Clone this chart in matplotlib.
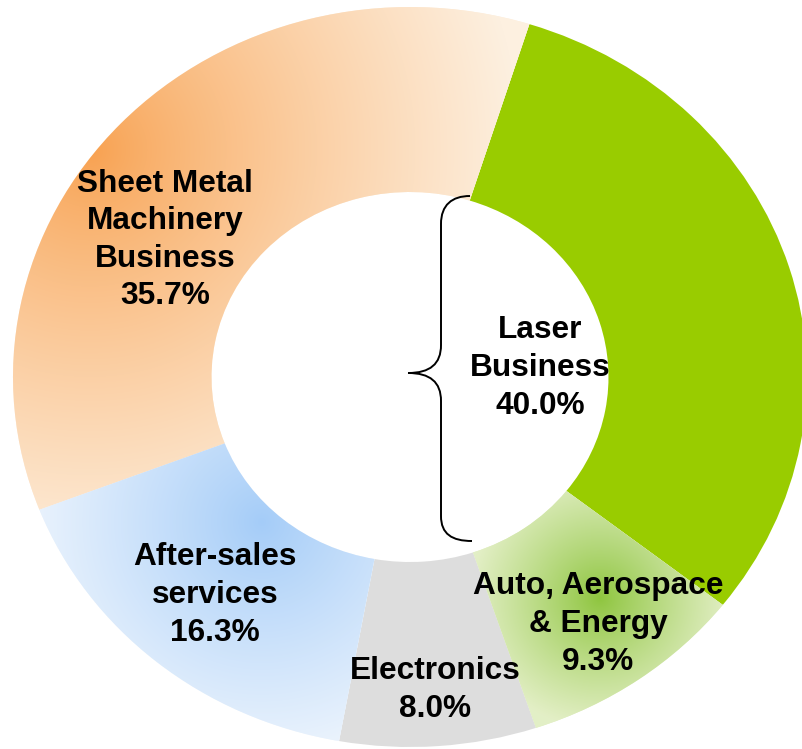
import numpy as np
import matplotlib.pyplot as plt
from matplotlib.colors import to_rgb
from matplotlib.path import Path
from matplotlib.patches import PathPatch

# segment shares, clockwise from the top
segments = ['Laser Business', 'Auto, Aerospace & Energy', 'Electronics',
            'After-sales services', 'Sheet Metal Machinery Business']
shares = [30.7, 9.3, 8.0, 16.3, 35.7]
laser_total = shares[0] + shares[1]   # Laser Business incl. Auto/Aerospace/Energy

base_colors = ['#99CC00', '#E2EFC4', '#DDDDDD', '#EEF5FD', '#FDEEDC']
# radial "path" gradients: (segment index, centre px, radius px, inner colour, outer colour, curve)
gradients = [
    (4, (90, 150), 430, '#F8A04E', '#FDF0E0', 0.8),
    (3, (262, 522), 245, '#A4CCF8', '#EEF5FD', 0.9),
    (1, (600, 598), 130, '#8EC53E', '#E3EFC6', 0.9),
]

W, H = 802, 749
CX, CY, RX, RY = 410, 377, 397, 370


def dx(px):
    return (px - CX) / RX


def dy(py):
    return (CY - py) / RY


fig = plt.figure(figsize=(W / 100, H / 100), dpi=100)
ax = fig.add_axes([0, 0, 1, 1])
ax.axis('off')

wedges, _ = ax.pie(shares, startangle=72.5, counterclock=False, radius=1,
                   colors=base_colors,
                   wedgeprops=dict(width=0.5, linewidth=0, antialiased=True))

# gradient fills clipped to their wedges
xs, ys = np.meshgrid(np.arange(W) + 0.5, np.arange(H) + 0.5)
for idx, (fx, fy), rad, c_in, c_out, g in gradients:
    t = np.clip(np.hypot(xs - fx, ys - fy) / rad, 0, 1) ** g
    c0, c1 = np.array(to_rgb(c_in)), np.array(to_rgb(c_out))
    img = c0[None, None, :] * (1 - t[..., None]) + c1[None, None, :] * t[..., None]
    im = ax.imshow(img, extent=(dx(0), dx(W), dy(H), dy(0)), origin='upper',
                   aspect='auto', interpolation='bilinear', zorder=1.5)
    im.set_clip_path(wedges[idx])

ax.set_aspect('auto')
ax.set_xlim(dx(0), dx(W))
ax.set_ylim(dy(H), dy(0))

# brace around the Laser Business part
brace_px = [(470, 196), (452, 196), (441, 205), (441, 224),
            (441, 345), (441, 364), (430, 373), (408, 373),
            (430, 373), (441, 382), (441, 401),
            (441, 516), (441, 534), (452, 541), (472, 541)]
codes = [Path.MOVETO, Path.CURVE4, Path.CURVE4, Path.CURVE4,
         Path.LINETO, Path.CURVE4, Path.CURVE4, Path.CURVE4,
         Path.CURVE4, Path.CURVE4, Path.CURVE4,
         Path.LINETO, Path.CURVE4, Path.CURVE4, Path.CURVE4]
brace = Path([(dx(x), dy(y)) for x, y in brace_px], codes)
ax.add_patch(PathPatch(brace, fill=False, lw=1.4, edgecolor='black', zorder=3))

font = dict(family=['Liberation Sans', 'DejaVu Sans'], fontsize=22.8,
            fontweight='bold', ha='center', va='center', linespacing=1.33, zorder=4)
ax.text(dx(165), dy(240), f'Sheet Metal\nMachinery\nBusiness\n{shares[4]:.1f}%', **font)
ax.text(dx(540), dy(368), f'Laser\nBusiness\n{laser_total:.1f}%', **font)
ax.text(dx(215), dy(595), f'After-sales\nservices\n{shares[3]:.1f}%', **font)
ax.text(dx(435), dy(690), f'Electronics\n{shares[2]:.1f}%', **font)
ax.text(dx(598), dy(624), f'Auto, Aerospace\n& Energy\n{shares[1]:.1f}%', **font)

fig.savefig('out.png', dpi=100)
plt.close(fig)
